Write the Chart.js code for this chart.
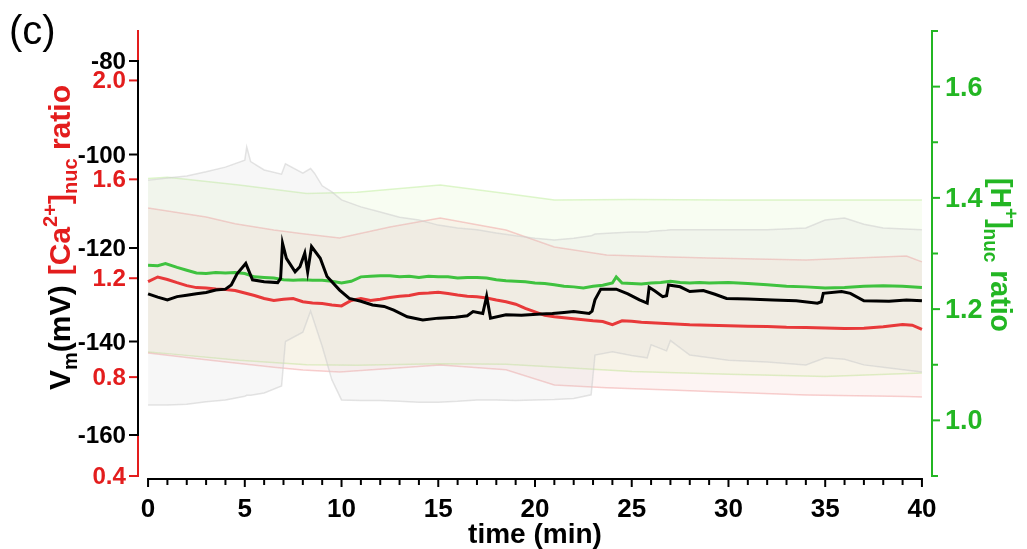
<!DOCTYPE html>
<html>
<head>
<meta charset="utf-8">
<script src="https://cdn.jsdelivr.net/npm/chart.js@4.4.1/dist/chart.umd.min.js"></script>
<style>
  html, body { margin: 0; padding: 0; background: #ffffff; }
  #wrap { width: 1027px; height: 549px; }
</style>
</head>
<body>
<div id="wrap"><canvas id="c" width="1027" height="549"></canvas></div>
<script>
// ---------------- DATA ----------------
// Membrane potential Vm (mV), black, left axis
const vmT = [0,0.5,1,1.5,2,2.5,3,3.5,4,4.3,4.6,5.05,5.4,6,6.7,6.85,6.95,7.15,7.6,7.85,8.1,8.25,8.45,8.9,9.25,9.9,10.4,11,11.6,12.2,12.7,13.4,14.2,15,15.9,16.5,16.8,17.3,17.5,17.7,18.5,19.3,20.3,20.9,21.5,22,22.8,22.95,23.1,23.4,24.2,24.8,25.4,25.8,25.9,26.2,26.6,26.8,26.9,27.5,28,28.7,29.3,29.9,31,32.3,33.5,34.6,34.8,34.9,35.85,36.3,37,38.3,39.2,40];
const vmV = [-129.8,-130.5,-131.1,-130.4,-130.1,-129.8,-129.5,-129.0,-128.8,-127.9,-125.5,-123.3,-126.8,-127.2,-127.4,-126.5,-119.0,-122.2,-125.1,-124.0,-121.1,-125.1,-119.7,-122.2,-126.1,-129.0,-130.8,-131.4,-132.2,-132.5,-133.3,-134.7,-135.4,-135.0,-134.8,-134.5,-133.6,-134.0,-130.3,-135.0,-134.3,-134.4,-134.1,-134.0,-133.8,-133.6,-134.0,-133.5,-131.1,-128.8,-128.8,-129.8,-131.1,-131.8,-128.4,-129.2,-130.4,-130.2,-127.9,-128.3,-129.3,-129.1,-129.9,-130.8,-130.9,-131.1,-131.3,-131.8,-131.5,-129.7,-129.3,-129.7,-131.3,-131.4,-131.1,-131.3];
// Vm SD envelope
const vmBandT = [0,1,2,3,4,5,5.1,5.3,6,6.9,7.1,8,8.4,8.6,9,9.5,10,11,12,13,14,15,16,17,18,19,20,21,22,22.9,23.1,24,25,25.8,26,26.8,27,28,30,32,34,35,36,37,38,40];
const vmUpper = [-105.5,-105.0,-104.6,-103.7,-102.7,-101.2,-98.4,-101.5,-103.3,-104.2,-102.0,-104.0,-103.0,-104.0,-106.7,-108.0,-109.7,-111.2,-112.3,-113.4,-114.0,-115.1,-115.7,-116.1,-116.8,-117.4,-117.9,-118.3,-117.9,-117.4,-117.0,-116.8,-116.6,-116.6,-116.4,-116.2,-116.1,-116.1,-116.1,-116.1,-115.7,-114.0,-113.6,-114.9,-115.7,-116.1];
const vmLower = [-153.6,-153.6,-153.4,-152.9,-152.5,-151.7,-151.5,-151.5,-151.0,-149.5,-140.0,-138.0,-133.5,-136.0,-141.0,-148.2,-152.5,-152.6,-152.6,-152.8,-153.0,-153.0,-152.8,-152.5,-152.5,-152.6,-152.5,-152.4,-152.2,-151.4,-142.9,-142.2,-143.0,-143.5,-140.7,-142.0,-139.8,-142.9,-144.0,-144.4,-145.0,-143.5,-143.8,-145.0,-145.5,-146.5];

// [Ca2+]nuc ratio, red, left axis
const caT = [0,0.5,1,1.5,2,2.5,3,3.5,4,4.5,5,5.5,6,6.5,7,7.5,8,8.5,9,9.5,10,10.5,11,11.5,12,12.5,13,13.5,14,14.5,15,15.5,16,16.5,17,17.5,18,18.5,19,19.5,20,20.5,21,21.5,22,22.5,23,23.5,24,24.5,25,25.5,26,27,28,29,30,31,32,33,34,35,36,37,38,39,39.5,40];
const caV = [1.186,1.205,1.195,1.182,1.170,1.162,1.160,1.156,1.154,1.150,1.140,1.130,1.118,1.110,1.115,1.118,1.105,1.100,1.098,1.092,1.088,1.110,1.118,1.110,1.115,1.122,1.127,1.130,1.138,1.140,1.143,1.138,1.132,1.127,1.125,1.120,1.112,1.105,1.095,1.078,1.064,1.050,1.044,1.040,1.036,1.032,1.028,1.025,1.012,1.028,1.026,1.022,1.020,1.016,1.012,1.010,1.008,1.006,1.005,1.002,1.001,0.999,0.997,0.998,1.004,1.013,1.010,0.993];
const caBandT = [0,3,4.5,6.5,8,9.9,12.5,15.1,18.5,21,23.7,27,29,34,39.2,40];
const caUpper = [1.484,1.448,1.420,1.395,1.380,1.363,1.407,1.444,1.395,1.326,1.294,1.286,1.282,1.274,1.290,1.266];
const caLower = [0.898,0.870,0.857,0.840,0.829,0.821,0.835,0.849,0.830,0.768,0.757,0.748,0.742,0.728,0.722,0.720];

// [H+]nuc ratio, green, right axis
const hT = [0,0.5,0.9,1.5,2,2.5,3,3.5,4,4.5,5,5.5,6,6.5,7,7.5,8,8.5,9,9.5,10,10.5,11,11.5,12,12.5,13,13.5,14,14.5,15,15.5,16,16.5,17,17.5,18,18.5,19,19.5,20,20.5,21,21.5,22,22.5,23,23.5,24,24.2,24.5,25,25.5,26,26.5,27,27.5,28,28.5,29,30,31,32,33,34,35,36,37,38,39,40];
const hV = [1.279,1.278,1.282,1.275,1.270,1.265,1.264,1.266,1.265,1.266,1.264,1.258,1.257,1.256,1.253,1.252,1.253,1.252,1.252,1.250,1.247,1.250,1.258,1.259,1.260,1.260,1.258,1.259,1.257,1.259,1.258,1.258,1.256,1.257,1.257,1.256,1.253,1.251,1.250,1.249,1.247,1.246,1.244,1.241,1.240,1.238,1.241,1.243,1.247,1.258,1.247,1.246,1.245,1.247,1.248,1.250,1.248,1.247,1.248,1.247,1.248,1.246,1.244,1.241,1.240,1.238,1.239,1.241,1.242,1.241,1.239];
const hBandT = [0,1,4.7,8.2,10.8,15.1,18.5,21,25,30,35,40];
const hUpper = [1.435,1.437,1.423,1.408,1.410,1.423,1.408,1.396,1.397,1.396,1.396,1.396];
const hLower = [1.123,1.120,1.108,1.100,1.099,1.102,1.101,1.096,1.088,1.083,1.079,1.085];

// Tick values / labels
const xTickValues = [0,5,10,15,20,25,30,35,40];
const xTickLabels = ['0','5','10','15','20','25','30','35','40'];
const vmTickValues = [-80,-100,-120,-140,-160];
const vmTickLabels = ['-80','-100','-120','-140','-160'];
const caTickValues = [2.0,1.6,1.2,0.8,0.4];
const caTickLabels = ['2.0','1.6','1.2','0.8','0.4'];
const hTickValues = [1.6,1.4,1.2,1.0];
const hTickLabels = ['1.6','1.4','1.2','1.0'];
const hMinorValues = [1.7,1.5,1.3,1.1,0.9];

// ---------------- STYLE ----------------
const RED = '#e31d1d';
const GREEN = '#23b623';
const FONT = "'Liberation Sans', Arial, Helvetica, sans-serif";

const pts = (t, v) => t.map((x, i) => ({ x: x, y: v[i] }));

function txt(ctx, s, x, y, font, color, align, sx) {
  ctx.save();
  ctx.translate(x, y);
  ctx.scale(sx || 1, 1);
  ctx.font = font;
  ctx.fillStyle = color;
  ctx.textAlign = align;
  ctx.textBaseline = 'alphabetic';
  ctx.fillText(s, 0, 0);
  ctx.restore();
}

// draw a rotated title made of segments, fitted to a given length
function rotTitle(ctx, segs, x, y, angle, size, length) {
  ctx.save();
  let total = 0;
  segs.forEach(sg => {
    ctx.font = 'bold ' + Math.round(size * (sg.scale || 1)) + 'px ' + FONT;
    sg.w = ctx.measureText(sg.t).width;
    total += sg.w + (sg.gap || 0);
  });
  const k = length / total;
  ctx.translate(x, y);
  ctx.rotate(angle);
  ctx.scale(k, 1);
  let pos = 0;
  segs.forEach(sg => {
    ctx.font = 'bold ' + Math.round(size * (sg.scale || 1)) + 'px ' + FONT;
    ctx.fillStyle = sg.c;
    ctx.textBaseline = 'alphabetic';
    ctx.textAlign = 'left';
    ctx.fillText(sg.t, pos, (sg.dy || 0));
    pos += sg.w + (sg.gap || 0);
  });
  ctx.restore();
}

const axesPlugin = {
  id: 'customAxes',
  afterDraw(chart) {
    const ctx = chart.ctx;
    const X = chart.scales.x, YV = chart.scales.yV, YC = chart.scales.yCa, YH = chart.scales.yH;
    const ca = chart.chartArea;
    const lx = ca.left, rx = ca.right;
    ctx.save();
    ctx.lineCap = 'square';
    const seg = (x1, y1, x2, y2) => { ctx.beginPath(); ctx.moveTo(x1, y1); ctx.lineTo(x2, y2); ctx.stroke(); };

    // ---- left red axis (Ca) ----
    ctx.lineWidth = 2;
    ctx.strokeStyle = RED;
    seg(lx, ca.top, lx, YC.getPixelForValue(0.4));
    caTickValues.forEach(v => { const y = YC.getPixelForValue(v); seg(lx - 8, y, lx, y); });
    // ---- black Vm overlay ----
    ctx.strokeStyle = '#000';
    seg(lx, YV.getPixelForValue(vmTickValues[0]), lx, YV.getPixelForValue(vmTickValues[vmTickValues.length - 1]));
    vmTickValues.forEach(v => { const y = YV.getPixelForValue(v); seg(lx - 8, y, lx, y); });

    vmTickValues.forEach((v, i) => {
      txt(ctx, vmTickLabels[i], lx - 12, YV.getPixelForValue(v) + 8, 'bold 23px ' + FONT, '#000', 'right', 1.05);
    });
    caTickValues.forEach((v, i) => {
      txt(ctx, caTickLabels[i], lx - 12, YC.getPixelForValue(v) + 8, 'bold 23px ' + FONT, RED, 'right', 1.05);
    });

    // ---- right green axis ----
    ctx.strokeStyle = GREEN;
    seg(rx, ca.top, rx, ca.bottom);
    hTickValues.forEach(v => { const y = YH.getPixelForValue(v); seg(rx, y, rx + 7, y); });
    hMinorValues.forEach(v => { const y = YH.getPixelForValue(v); seg(rx, y, rx + 5, y); });
    hTickValues.forEach((v, i) => {
      txt(ctx, hTickLabels[i], rx + 13, YH.getPixelForValue(v) + 9, 'bold 27px ' + FONT, GREEN, 'left', 1);
    });

    // ---- x axis ----
    const xy = ca.bottom + 3;
    ctx.strokeStyle = '#000';
    ctx.lineCap = 'butt';
    seg(X.getPixelForValue(0) - 1, xy, X.getPixelForValue(40) + 1, xy);
    for (let m = 0; m <= 40; m++) {
      const px = X.getPixelForValue(m);
      const major = xTickValues.indexOf(m) >= 0;
      seg(px, xy, px, xy + (major ? 8 : 6));
    }
    xTickValues.forEach((v, i) => {
      txt(ctx, xTickLabels[i], X.getPixelForValue(v), 517, 'bold 26px ' + FONT, '#000', 'center', 1);
    });
    txt(ctx, 'time (min)', X.getPixelForValue(20), 543, 'bold 28px ' + FONT, '#000', 'center', 1);

    // ---- left title (rotated, bottom to top) ----
    rotTitle(ctx, [
      { t: 'V', c: '#000' },
      { t: 'm', c: '#000', scale: 0.65, dy: 7 },
      { t: '(mV)', c: '#000', gap: 10 },
      { t: '[Ca', c: RED },
      { t: '2+', c: RED, scale: 0.65, dy: -13 },
      { t: ']', c: RED },
      { t: 'nuc', c: RED, scale: 0.65, dy: 7 },
      { t: ' ratio', c: RED }
    ], 70, 390, -Math.PI / 2, 30, 305);

    // ---- right title (rotated, top to bottom) ----
    rotTitle(ctx, [
      { t: '[H', c: GREEN },
      { t: '+', c: GREEN, scale: 0.65, dy: -13 },
      { t: ']', c: GREEN },
      { t: 'nuc', c: GREEN, scale: 0.65, dy: 7 },
      { t: ' ratio', c: GREEN }
    ], 991, 178, Math.PI / 2, 30, 154);

    // ---- panel label ----
    txt(ctx, '(c)', 9, 44, '40px ' + FONT, '#000', 'left', 1);
    ctx.restore();
  }
};

const lineDs = (label, t, v, axis, color, w) => ({
  label: label, data: pts(t, v), yAxisID: axis, borderColor: color, borderWidth: w,
  pointRadius: 0, fill: false, tension: 0
});
const bandDs = (label, t, v, axis, border, bg, fill) => ({
  label: label, data: pts(t, v), yAxisID: axis, borderColor: border, borderWidth: 1.5,
  backgroundColor: bg, pointRadius: 0, fill: fill, tension: 0
});

new Chart(document.getElementById('c'), {
  type: 'line',
  data: {
    datasets: [
      lineDs('Vm', vmT, vmV, 'yV', '#000000', 3),
      lineDs('H+', hT, hV, 'yH', '#3fc23f', 3),
      lineDs('Ca2+', caT, caV, 'yCa', '#e8393a', 3),
      bandDs('Vm+SD', vmBandT, vmUpper, 'yV', 'rgba(205,205,205,0.55)', 'rgba(200,200,200,0.15)', '+1'),
      bandDs('Vm-SD', vmBandT, vmLower, 'yV', 'rgba(205,205,205,0.55)', 'rgba(0,0,0,0)', false),
      bandDs('Ca+SD', caBandT, caUpper, 'yCa', 'rgba(240,150,150,0.45)', 'rgba(240,150,140,0.10)', '+1'),
      bandDs('Ca-SD', caBandT, caLower, 'yCa', 'rgba(240,150,150,0.45)', 'rgba(0,0,0,0)', false),
      bandDs('H+SD', hBandT, hUpper, 'yH', 'rgba(200,240,170,0.6)', 'rgba(200,240,150,0.12)', '+1'),
      bandDs('H-SD', hBandT, hLower, 'yH', 'rgba(200,240,170,0.6)', 'rgba(0,0,0,0)', false)
    ]
  },
  options: {
    responsive: false,
    animation: false,
    devicePixelRatio: 1,
    layout: { padding: { left: 138, right: 95, top: 31, bottom: 73 } },
    plugins: { legend: { display: false }, tooltip: { enabled: false }, title: { display: false } },
    scales: {
      x: { type: 'linear', min: -0.52, max: 40.52, display: false },
      yV: { type: 'linear', min: -168.77, max: -73.58, display: false },
      yCa: { type: 'linear', min: 0.4, max: 2.2, display: false },
      yH: { type: 'linear', min: 0.9, max: 1.7, display: false }
    }
  },
  plugins: [axesPlugin]
});
</script>
</body>
</html>
